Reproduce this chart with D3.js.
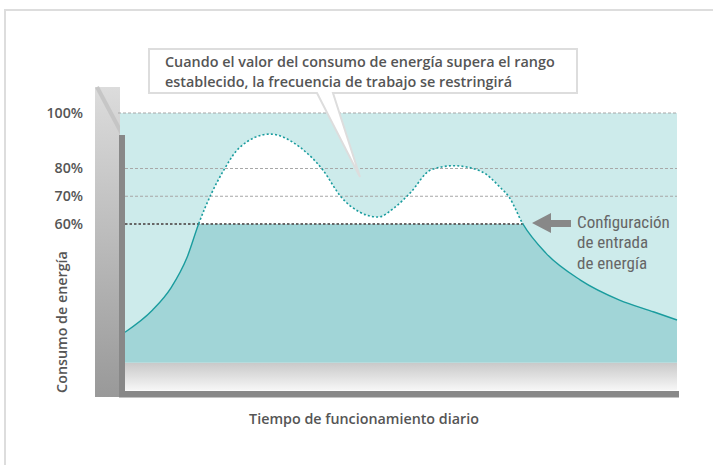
<!DOCTYPE html>
<html>
<head>
<meta charset="utf-8">
<script src="https://cdn.jsdelivr.net/npm/d3@7"></script>
<style>
  html, body { margin: 0; padding: 0; background: #fff; }
  svg { display: block; }
  text { font-family: "Open Sans", sans-serif; }
</style>
</head>
<body>
<svg id="chart" width="713" height="465"></svg>
<script>
// daily operating time (hours) and energy consumption (%)
const hours = [0, 1.2, 2, 2.7, 3.2, 4.3, 5, 6.3, 7.6, 8.6, 9.4, 10.2, 11, 11.7, 12.4, 13.3, 14.3, 15.5, 16.3, 16.7, 17.3, 18.3, 19.8, 21.5, 23, 24];
const consumption = [21, 29, 37, 48, 60, 79.5, 87.7, 92.4, 87.7, 79.5, 69.7, 64.3, 62.5, 65.8, 71.2, 79.5, 81, 78.9, 73.3, 69.7, 60, 49.5, 39.8, 32.6, 28.3, 25.4];
const gridTicks = [100, 80, 70];
const tickLabels = ['100%', '80%', '70%', '60%'];
const tickValues = [100, 80, 70, 60];
const limit = 60;
const floor = 10;

const calloutLines = [
    'Cuando el valor del consumo de energía supera el rango',
    'establecido, la frecuencia de trabajo se restringirá'
];
const setLines = ['Configuración', 'de entrada', 'de energía'];

const svg = d3.select('#chart');
const data = hours.map((h, i) => ({ h, v: consumption[i] }));

const x = d3.scaleLinear().domain([0, 24]).range([125, 677]);
const y = d3.scaleLinear().domain([0, 100]).range([390.5, 113]);

const defs = svg.append('defs');

const grad = (id, stops) => {
    const g = defs.append('linearGradient').attr('id', id)
        .attr('x1', 0).attr('y1', 0).attr('x2', 0).attr('y2', 1);
    stops.forEach(([o, c]) => g.append('stop').attr('offset', o).attr('stop-color', c));
};
grad('panelGrad', [[0, '#dcdcdc'], [1, '#999']]);
grad('floorGrad', [[0, '#c9c9c9'], [1, '#f7f7f7']]);

// outer frame
svg.append('rect')
    .attr('x', 5).attr('y', 10).attr('width', 800).attr('height', 600)
    .attr('fill', 'none').attr('stroke', '#ddd').attr('stroke-width', 2);

// left gray panel
svg.append('rect')
    .attr('x', 95).attr('y', 87).attr('width', 25).attr('height', 310)
    .attr('fill', 'url(#panelGrad)');
svg.append('line')
    .attr('x1', 97).attr('y1', 87).attr('x2', 122).attr('y2', 134)
    .attr('stroke', '#c2c2c2').attr('stroke-width', 4).attr('opacity', 0.8);

// background band
svg.append('rect')
    .attr('x', 120).attr('y', y(100))
    .attr('width', x(24) - 120).attr('height', y(floor) - y(100))
    .attr('fill', '#cdebeb');

// floor gradient
svg.append('rect')
    .attr('x', 120).attr('y', y(floor))
    .attr('width', x(24) - 120).attr('height', y(0) - y(floor))
    .attr('fill', 'url(#floorGrad)');

const curve = d3.curveMonotoneX;
const area = d3.area().x(d => x(d.h)).y0(y(floor)).y1(d => y(d.v)).curve(curve);
const line = d3.line().x(d => x(d.h)).y(d => y(d.v)).curve(curve);

defs.append('clipPath').attr('id', 'under').append('path').attr('d', area(data));
defs.append('clipPath').attr('id', 'above').append('rect')
    .attr('x', 0).attr('y', 0).attr('width', 713).attr('height', y(limit));
defs.append('clipPath').attr('id', 'below').append('rect')
    .attr('x', 0).attr('y', y(limit)).attr('width', 713).attr('height', 465);

// area above the limit -> white, below -> dark teal
svg.append('rect')
    .attr('x', x(0)).attr('y', y(100)).attr('width', x(24) - x(0)).attr('height', y(limit) - y(100))
    .attr('fill', '#fff').attr('clip-path', 'url(#under)');
svg.append('rect')
    .attr('x', x(0)).attr('y', y(limit)).attr('width', x(24) - x(0)).attr('height', y(floor) - y(limit))
    .attr('fill', '#a1d5d7').attr('clip-path', 'url(#under)');

// grid lines
svg.selectAll('.grid').data(gridTicks).join('line')
    .attr('x1', d => d === 100 ? 118 : 125).attr('x2', x(24))
    .attr('y1', d => y(d)).attr('y2', d => y(d))
    .attr('stroke', '#a8a8a8').attr('stroke-width', 1.2).attr('stroke-dasharray', '3,2');

// limit line
const lastCross = data.find((d, i) => i > 5 && d.v <= limit);
svg.append('line')
    .attr('x1', x(0)).attr('x2', x(lastCross.h))
    .attr('y1', y(limit)).attr('y2', y(limit))
    .attr('stroke', '#666').attr('stroke-width', 2).attr('stroke-dasharray', '2.5,2');

// consumption curve
svg.append('path').attr('d', line(data))
    .attr('fill', 'none').attr('stroke', '#1a9c9e').attr('stroke-width', 1.4)
    .attr('clip-path', 'url(#below)');
svg.append('path').attr('d', line(data))
    .attr('fill', 'none').attr('stroke', '#1a9c9e').attr('stroke-width', 1.6)
    .attr('stroke-dasharray', '2,2.2')
    .attr('clip-path', 'url(#above)');

// axes bars
svg.append('rect').attr('x', 119).attr('y', 135).attr('width', 6).attr('height', 262).attr('fill', '#888');
svg.append('rect').attr('x', 119).attr('y', 391).attr('width', 560).attr('height', 6.5).attr('fill', '#888');

// tick labels
svg.selectAll('.tick').data(tickValues).join('text')
    .attr('x', 83).attr('y', d => y(d)).attr('dy', '0.35em')
    .attr('text-anchor', 'end')
    .attr('font-size', 14.2).attr('font-weight', 600).attr('fill', '#555')
    .text((d, i) => tickLabels[i]);

// axis titles
svg.append('text')
    .attr('transform', 'translate(67,322) rotate(-90)')
    .attr('text-anchor', 'middle')
    .attr('font-size', 14.3).attr('font-weight', 600).attr('fill', '#555')
    .text('Consumo de energía');
svg.append('text')
    .attr('x', 364).attr('y', 424)
    .attr('text-anchor', 'middle')
    .attr('font-size', 14.3).attr('font-weight', 600).attr('fill', '#555')
    .text('Tiempo de funcionamiento diario');

// callout
const callout = svg.append('g');
callout.append('path')
    .attr('d', 'M149,49 H577 V93 H333 L360,177 L317,93 H149 Z')
    .attr('fill', '#fff').attr('stroke', '#ddd').attr('stroke-width', 2).attr('stroke-linejoin', 'miter');
callout.selectAll('text').data(calloutLines).join('text')
    .attr('x', 165).attr('y', (d, i) => 62 + i * 20).attr('dy', '0.35em')
    .attr('font-size', 14.4).attr('font-weight', 600).attr('fill', '#555')
    .text(d => d);

// set-point arrow and label
svg.append('path')
    .attr('d', 'M532,223 L551,213 V220 H571 V227 H551 V233 Z')
    .attr('fill', '#888');
svg.selectAll('.set').data(setLines).join('text')
    .attr('x', 577).attr('y', (d, i) => 222 + i * 20.5).attr('dy', '0.35em')
    .style('font-family', '"Liberation Sans Narrow", "Roboto Condensed", sans-serif')
    .attr('font-size', 17).attr('fill', '#666')
    .text(d => d);
</script>
</body>
</html>
